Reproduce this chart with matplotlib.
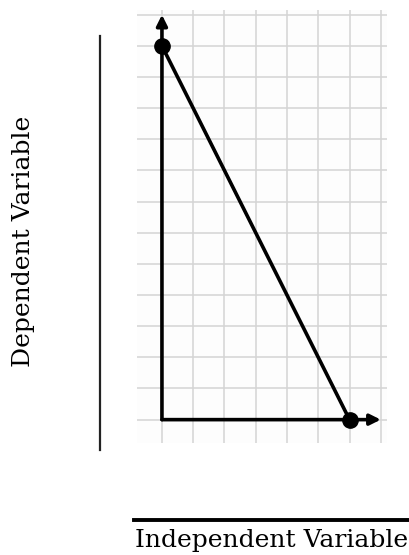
import matplotlib.pyplot as plt
from matplotlib.lines import Line2D

# Line data (grid units)
line_x = [0, 6]
line_y = [12, 0]

# Axis extents
x_min, x_max = -0.8, 7.2
y_min, y_max = -0.75, 13.15
arrow_x = 7.0
arrow_y = 13.0

x_label = "Independent Variable"
y_label = "Dependent Variable"

fig = plt.figure(figsize=(4.1, 5.55), dpi=100)
ax = fig.add_axes([0.334, 0.2018, 0.61, 0.78])

ax.set_xlim(x_min, x_max)
ax.set_ylim(y_min, y_max)
ax.set_xticks(range(0, 8))
ax.set_yticks(range(0, 14))
ax.grid(True, color="#d4d4d4", linewidth=1.1)
ax.tick_params(length=0, labelbottom=False, labelleft=False)
for s in ax.spines.values():
    s.set_visible(False)
ax.set_facecolor("#fdfdfd")
ax.set_axisbelow(True)

# Axes with arrow heads
ax.annotate("", xy=(arrow_x, 0), xytext=(0, 0),
            arrowprops=dict(arrowstyle="-|>", color="black", lw=2.6,
                            mutation_scale=16, shrinkA=0, shrinkB=0))
ax.annotate("", xy=(0, arrow_y), xytext=(0, 0),
            arrowprops=dict(arrowstyle="-|>", color="black", lw=2.6,
                            mutation_scale=16, shrinkA=0, shrinkB=0))

ax.plot(line_x, line_y, color="black", lw=2.6, marker="o", markersize=11,
        solid_capstyle="round", zorder=5)

# Labels with rules
fig.add_artist(Line2D([100 / 410, 100 / 410], [1 - 36 / 555, 1 - 450 / 555],
                      color="#222222", lw=1.6))
fig.add_artist(Line2D([134 / 410, 409 / 410], [1 - 520 / 555, 1 - 520 / 555],
                      color="black", lw=2.8))

fig.text(24 / 410, 1 - 241 / 555, y_label, rotation=90, ha="center", va="center",
         fontsize=18, family="DejaVu Serif")
fig.text(271.5 / 410, 1 - 541 / 555, x_label, ha="center", va="center",
         fontsize=18, family="DejaVu Serif")

fig.savefig("out.png", dpi=100)
